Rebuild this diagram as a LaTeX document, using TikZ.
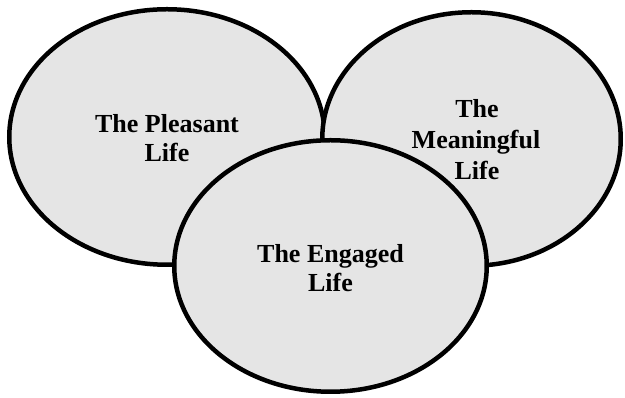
\documentclass[tikz,border=0pt]{standalone}
\usepackage{fontspec}
\setmainfont{Liberation Serif}
\usetikzlibrary{shapes.geometric}
\begin{document}
\begin{tikzpicture}[x=1pt,y=1pt,
  circ/.style={ellipse, draw=black, line width=4.5pt, fill=black!10, inner sep=0pt},
  lbl/.style={anchor=base, inner sep=0pt, font=\fontsize{26}{29}\selectfont\bfseries}]
\useasboundingbox (0,0) rectangle (625,398);
\node[circ, minimum width=315.5pt, minimum height=255.5pt] (pleasant) at (167,261) {};
\node[circ, minimum width=298.5pt, minimum height=253.5pt] (meaning) at (471.5,259) {};
\node[circ, minimum width=312.5pt, minimum height=251.5pt] (engaged) at (330.5,132) {};
\node[lbl] (p1) at (167,265) {The Pleasant};
\node[lbl] (p2) at (167,236) {Life};
\node[lbl] (m1) at (477,280) {The};
\node[lbl] (m2) at (476,249.5) {Meaningful};
\node[lbl] (m3) at (477,218) {Life};
\node[lbl] (e1) at (330.5,135) {The Engaged};
\node[lbl] (e2) at (330.5,106) {Life};
\end{tikzpicture}
\end{document}
